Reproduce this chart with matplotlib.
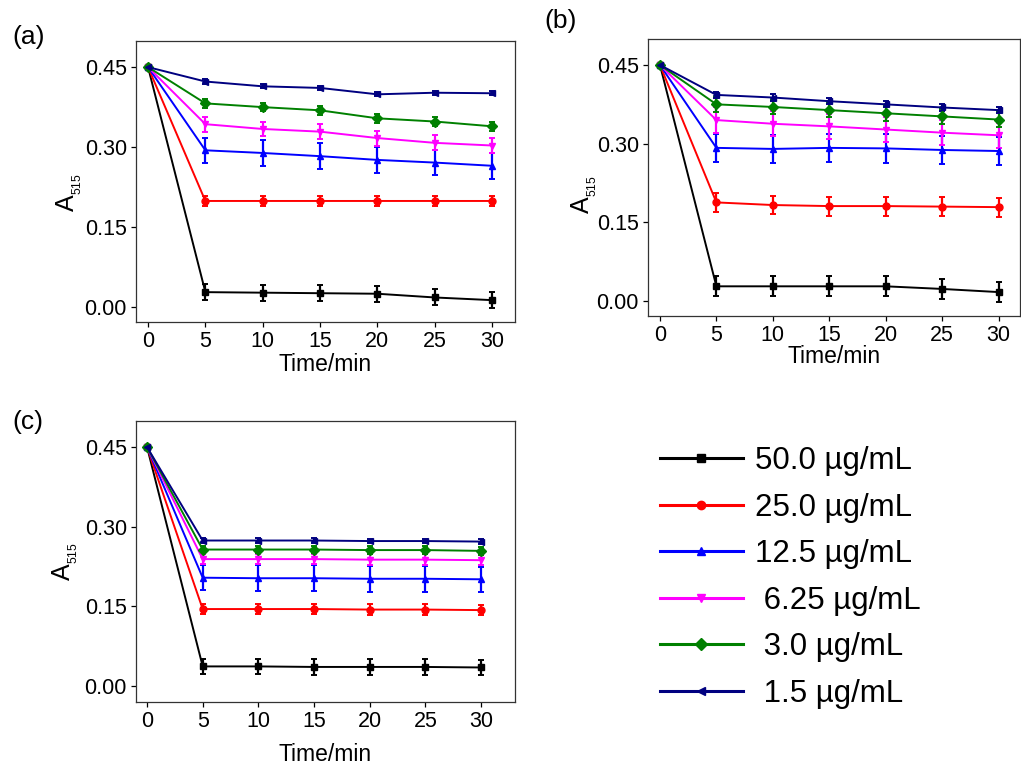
import matplotlib
matplotlib.use("Agg")
import matplotlib.pyplot as plt
from matplotlib.lines import Line2D

plt.rcParams["font.family"] = ["Liberation Sans", "DejaVu Sans"]
plt.rcParams["mathtext.fontset"] = "custom"
plt.rcParams["mathtext.rm"] = "Liberation Sans"

time = [0, 5, 10, 15, 20, 25, 30]
labels = ["50.0 µg/mL", "25.0 µg/mL", "12.5 µg/mL", " 6.25 µg/mL", " 3.0 µg/mL", " 1.5 µg/mL"]
colors = ["black", "#ff0000", "#0000ff", "#ff00ff", "#008000", "#000080"]
markers = ["s", "o", "^", "v", "D", "<"]

# panel (a)
a_50 = [0.45, 0.028, 0.027, 0.026, 0.025, 0.018, 0.013]
a_25 = [0.45, 0.199, 0.199, 0.199, 0.199, 0.199, 0.199]
a_12 = [0.45, 0.294, 0.289, 0.283, 0.276, 0.271, 0.265]
a_6 = [0.45, 0.343, 0.334, 0.329, 0.317, 0.308, 0.303]
a_3 = [0.45, 0.382, 0.375, 0.369, 0.354, 0.348, 0.339]
a_1 = [0.45, 0.423, 0.414, 0.411, 0.399, 0.402, 0.401]
a_err = [0.015, 0.010, 0.024, 0.014, 0.008, 0.004]

# panel (b)
b_50 = [0.45, 0.028, 0.028, 0.028, 0.028, 0.023, 0.017]
b_25 = [0.45, 0.188, 0.183, 0.181, 0.181, 0.180, 0.179]
b_12 = [0.45, 0.292, 0.290, 0.292, 0.291, 0.288, 0.286]
b_6 = [0.45, 0.345, 0.338, 0.333, 0.327, 0.321, 0.316]
b_3 = [0.45, 0.375, 0.370, 0.364, 0.358, 0.352, 0.346]
b_1 = [0.45, 0.393, 0.388, 0.381, 0.375, 0.369, 0.364]
b_err = [0.019, 0.018, 0.027, 0.024, 0.014, 0.006]

# panel (c)
c_50 = [0.45, 0.037, 0.037, 0.036, 0.036, 0.036, 0.035]
c_25 = [0.45, 0.145, 0.145, 0.145, 0.144, 0.144, 0.143]
c_12 = [0.45, 0.204, 0.203, 0.203, 0.202, 0.202, 0.201]
c_6 = [0.45, 0.239, 0.239, 0.239, 0.238, 0.238, 0.237]
c_3 = [0.45, 0.257, 0.257, 0.257, 0.256, 0.256, 0.2545]
c_1 = [0.45, 0.274, 0.274, 0.274, 0.273, 0.273, 0.272]
c_err = [0.0145, 0.010, 0.024, 0.010, 0.007, 0.004]

W, H = 1021, 767


def px_axes(left, top, right, bottom):
    return [left / W, 1 - bottom / H, (right - left) / W, (bottom - top) / H]


def draw_panel(ax, series, errs, xlim, ylim, xlabelpad, ylabel_xy):
    for vals, err, col, mk in zip(series, errs, colors, markers):
        yerr = [0] + [err] * (len(time) - 1)
        ax.errorbar(time, vals, yerr=yerr, color=col, marker=mk, markersize=5,
                    linewidth=1.4, elinewidth=1.6, capsize=2.5, capthick=1.4)
    ax.set_xlim(*xlim)
    ax.set_ylim(*ylim)
    ax.set_xticks(time)
    ax.set_yticks([0.0, 0.15, 0.30, 0.45])
    ax.set_yticklabels(["0.00", "0.15", "0.30", "0.45"])
    ax.tick_params(direction="out", length=3.5, width=0.9, pad=3, labelsize=15.5,
                   top=False, right=False)
    for sp in ax.spines.values():
        sp.set_linewidth(0.9)
        sp.set_color("#333333")
    ax.set_xlabel("Time/min", fontsize=16.5, labelpad=xlabelpad)
    ax.set_ylabel(r"A$_{_\mathregular{515}}$", fontsize=18)
    ax.yaxis.set_label_coords(*ylabel_xy)


fig = plt.figure(figsize=(W / 100, H / 100), dpi=100)

ax_a = fig.add_axes(px_axes(136, 41, 515, 322))
draw_panel(ax_a, [a_50, a_25, a_12, a_6, a_3, a_1], a_err,
           (-1.05, 32.0), (-0.028, 0.499), 1, (-0.138, 0.46))

ax_b = fig.add_axes(px_axes(648, 39, 1020, 316))
draw_panel(ax_b, [b_50, b_25, b_12, b_6, b_3, b_1], b_err,
           (-1.06, 31.9), (-0.0286, 0.4996), -1, (-0.132, 0.44))

ax_c = fig.add_axes(px_axes(136, 421, 515, 702))
draw_panel(ax_c, [c_50, c_25, c_12, c_6, c_3, c_1], c_err,
           (-0.99, 33.05), (-0.030, 0.499), 8, (-0.148, 0.5))

fig.text(12 / W, 1 - 37 / H, "(a)", fontsize=19, va="center", ha="left")
fig.text(544 / W, 1 - 21 / H, "(b)", fontsize=19, va="center", ha="left")
fig.text(12 / W, 1 - 422 / H, "(c)", fontsize=19, va="center", ha="left")

handles = [Line2D([], [], color=c, marker=m, markersize=6, linewidth=2.2)
           for c, m in zip(colors, markers)]
fig.legend(handles, labels, loc="upper left", bbox_to_anchor=(660 / W, 1 - 446 / H),
           frameon=False, fontsize=22.5, handlelength=2.65, handletextpad=0.4,
           labelspacing=0.53, borderpad=0, borderaxespad=0)

fig.savefig("out.png", dpi=100)
